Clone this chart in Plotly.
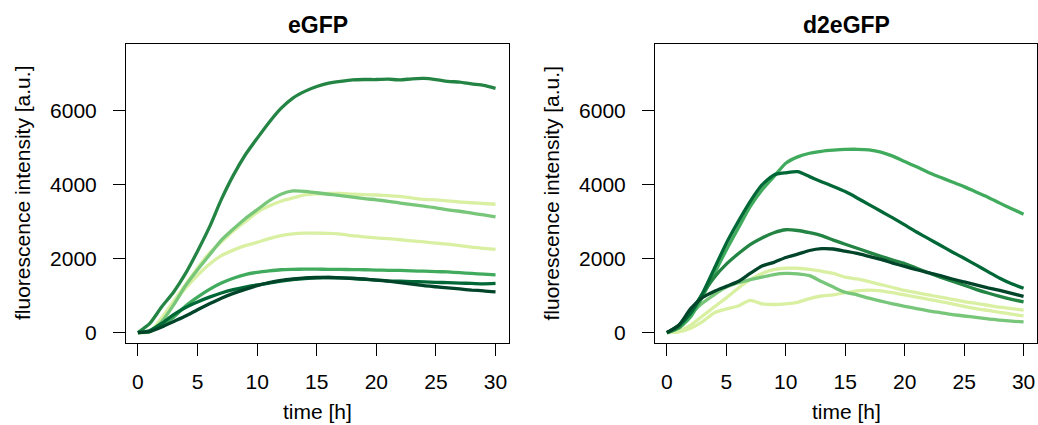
import plotly.graph_objects as go

# time grid [h]
time_h = list(range(0, 31))

# ---- eGFP panel (left) ----
egfp_a = [0, 250, 700, 1100, 1600, 2200, 2850, 3600, 4250, 4800, 5250, 5680, 6060, 6340, 6520, 6650,
          6740, 6790, 6830, 6840, 6840, 6850, 6830, 6860, 6870, 6840, 6790, 6770, 6720, 6680, 6600]
egfp_b = [0, 30, 300, 750, 1270, 1700, 2100, 2500, 2800, 3080, 3320, 3560, 3740, 3830, 3820, 3780,
          3740, 3700, 3660, 3620, 3590, 3550, 3500, 3460, 3420, 3370, 3320, 3280, 3230, 3180, 3130]
egfp_c = [0, 20, 400, 850, 1300, 1750, 2150, 2450, 2750, 3000, 3250, 3420, 3550, 3640, 3720, 3750,
          3760, 3760, 3740, 3730, 3720, 3700, 3680, 3640, 3600, 3590, 3560, 3530, 3510, 3490, 3470]
egfp_d = [0, 30, 350, 800, 1200, 1550, 1850, 2080, 2230, 2350, 2440, 2540, 2620, 2670, 2690, 2690,
          2680, 2660, 2620, 2590, 2560, 2540, 2510, 2480, 2450, 2420, 2390, 2350, 2310, 2280, 2250]
egfp_e = [0, 30, 220, 420, 720, 960, 1170, 1340, 1470, 1570, 1630, 1670, 1700, 1710, 1715, 1715,
          1712, 1708, 1705, 1700, 1690, 1685, 1680, 1670, 1660, 1650, 1640, 1620, 1600, 1580, 1560]
egfp_f = [0, 60, 250, 490, 680, 830, 960, 1070, 1160, 1230, 1290, 1340, 1390, 1430, 1460, 1480,
          1490, 1480, 1460, 1440, 1420, 1400, 1390, 1380, 1370, 1360, 1350, 1340, 1330, 1320, 1330]
egfp_g = [0, 30, 150, 300, 450, 620, 780, 930, 1060, 1170, 1270, 1350, 1410, 1450, 1480, 1490,
          1490, 1480, 1470, 1450, 1420, 1390, 1350, 1310, 1270, 1240, 1210, 1180, 1150, 1130, 1100]

# ---- d2eGFP panel (right) ----
d2_a = [0, 120, 432, 973, 1605, 2235, 2822, 3405, 3857, 4216, 4578, 4750, 4848, 4900, 4930, 4950,
        4955, 4940, 4880, 4770, 4622, 4480, 4330, 4200, 4070, 3946, 3800, 3660, 3500, 3350, 3200]
d2_b = [0, 200, 524, 1065, 1740, 2416, 3000, 3541, 3992, 4262, 4320, 4350, 4216, 4080, 3950, 3811,
        3640, 3460, 3280, 3100, 2910, 2720, 2540, 2360, 2180, 2010, 1830, 1650, 1470, 1320, 1200]
d2_c = [0, 150, 560, 1050, 1500, 1850, 2130, 2380, 2560, 2700, 2780, 2760, 2700, 2620, 2500, 2390,
        2280, 2170, 2060, 1960, 1870, 1740, 1620, 1500, 1390, 1280, 1170, 1070, 980, 900, 830]
d2_d = [0, 200, 650, 950, 1120, 1250, 1380, 1600, 1800, 1900, 2030, 2120, 2220, 2270, 2260, 2200,
        2140, 2060, 1980, 1880, 1790, 1700, 1620, 1540, 1450, 1370, 1290, 1210, 1140, 1060, 980]
d2_e = [0, 40, 200, 450, 700, 940, 1200, 1430, 1600, 1700, 1740, 1740, 1710, 1660, 1600, 1500,
        1450, 1380, 1300, 1220, 1140, 1080, 1020, 960, 900, 840, 790, 740, 690, 650, 610]
d2_f = [0, 150, 500, 800, 1030, 1230, 1350, 1430, 1500, 1570, 1600, 1590, 1540, 1380, 1230, 1090,
        1020, 930, 850, 780, 710, 650, 590, 540, 490, 450, 410, 370, 340, 310, 290]
d2_g = [0, 20, 120, 300, 540, 640, 720, 870, 780, 760, 780, 820, 920, 990, 1020, 1080,
        1130, 1150, 1130, 1080, 1020, 960, 900, 840, 780, 710, 650, 600, 550, 500, 450]

left_series = [(egfp_d, "#d9f0a3"), (egfp_c, "#d9f0a3"), (egfp_b, "#78c679"), (egfp_e, "#41ab5d"),
               (egfp_a, "#238443"), (egfp_f, "#006837"), (egfp_g, "#004529")]
right_series = [(d2_g, "#d9f0a3"), (d2_e, "#d9f0a3"), (d2_f, "#78c679"), (d2_a, "#41ab5d"),
                (d2_c, "#238443"), (d2_b, "#006837"), (d2_d, "#004529")]

fig = go.Figure()
for vals, col in left_series:
    fig.add_trace(go.Scatter(x=time_h, y=vals, mode="lines", xaxis="x", yaxis="y",
                             line=dict(color=col, width=3.3, shape="spline", smoothing=0.6),
                             showlegend=False, hoverinfo="skip"))
for vals, col in right_series:
    fig.add_trace(go.Scatter(x=time_h, y=vals, mode="lines", xaxis="x2", yaxis="y2",
                             line=dict(color=col, width=3.3, shape="spline", smoothing=0.6),
                             showlegend=False, hoverinfo="skip"))

W, H = 1038, 425
FONT = "Liberation Sans, Arial, Helvetica, sans-serif"
L0, L1 = 126, 509
R0, R1 = 655, 1037
T0, B0 = 44, 343

common_x = dict(range=[-1.0, 31.13], tickvals=[0, 5, 10, 15, 20, 25, 30], ticks="outside",
                ticklen=12, tickwidth=1, tickcolor="black", showline=True, linecolor="black",
                linewidth=1, mirror=True, showgrid=False, zeroline=False,
                tickfont=dict(family=FONT, size=21, color="black"), ticklabelstandoff=8)
common_y = dict(range=[-280, 7800], tickvals=[0, 2000, 4000, 6000], ticks="outside",
                ticklen=12, tickwidth=1, tickcolor="black", showline=True, linecolor="black",
                linewidth=1, mirror=True, showgrid=False, zeroline=False,
                tickfont=dict(family=FONT, size=21, color="black"), ticklabelstandoff=12,
                domain=[1 - B0 / H, 1 - T0 / H])

fig.update_layout(
    width=W, height=H, margin=dict(l=0, r=0, t=0, b=0),
    paper_bgcolor="white", plot_bgcolor="white",
    font=dict(family=FONT, size=21, color="black"),
    xaxis=dict(domain=[L0 / W, L1 / W], anchor="y", **common_x),
    yaxis=dict(anchor="x", **common_y),
    xaxis2=dict(domain=[R0 / W, R1 / W], anchor="y2", **common_x),
    yaxis2=dict(anchor="x2", **common_y),
)

def ann(text, xpx, ypx, size=21, bold=False, angle=0):
    fig.add_annotation(text=f"<b>{text}</b>" if bold else text, x=xpx / W, y=1 - ypx / H,
                       xref="paper", yref="paper", showarrow=False, textangle=angle,
                       xanchor="center", yanchor="middle",
                       font=dict(family=FONT, size=size, color="black"))

ann("eGFP", (L0 + L1) / 2, 25, size=23, bold=True)
ann("d2eGFP", (R0 + R1) / 2, 25, size=23, bold=True)
ann("time [h]", (L0 + L1) / 2, 411)
ann("time [h]", (R0 + R1) / 2, 411)
ann("fluorescence intensity [a.u.]", 22.5, (T0 + B0) / 2, angle=-90)
ann("fluorescence intensity [a.u.]", 551, (T0 + B0) / 2, angle=-90)

fig.write_html("out.html", config={"displayModeBar": False, "staticPlot": True},
               post_script="document.body.style.margin='0';document.body.style.overflow='hidden';")
